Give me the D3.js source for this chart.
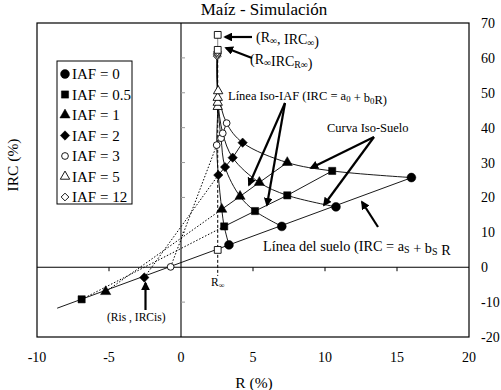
<!DOCTYPE html>
<html>
<head>
<meta charset="utf-8">
<script src="https://cdn.jsdelivr.net/npm/d3@7"></script>
<style>
  body { margin: 0; background: #fff; }
  svg text { font-family: "Liberation Serif", "Times New Roman", Times, serif; }
</style>
</head>
<body>
<div id="chart"></div>
<script>
// IAF levels (columns of the soil tables below)
var iafLevels = ["0", "0.5", "1", "2", "3", "5", "12"];

// one row per soil (iso-suelo curve), one column per IAF level
var soilR = [
  [3.33, 3.00, 2.83, 2.59, 2.48, 2.55, 2.52],
  [7.00, 5.14, 4.10, 3.06, 2.78, 2.55, 2.52],
  [10.76, 7.38, 5.44, 3.59, 2.90, 2.55, 2.53],
  [16.0, 10.5, 7.38, 4.28, 3.17, 2.58, 2.53]
];
var soilIRC = [
  [6.4, 11.7, 16.6, 26.4, 35.0, 46.0, 60.5],
  [11.7, 16.1, 20.3, 28.7, 37.0, 47.2, 60.9],
  [17.3, 20.6, 24.3, 31.4, 38.4, 48.6, 61.3],
  [25.7, 27.6, 30.0, 35.7, 41.3, 50.5, 61.7]
];

// soil line IRC = aS + bS R
var soilA = 1.33, soilB = 1.52;
var soilLineR = [-8.6, 16.0];

// (Ris, IRCis): where each iso-IAF line meets the soil line (IAF 0.5, 1, 2, 3)
var isR = [-6.9, -5.23, -2.55, -0.72];
var isIRC = [-9.2, -7.0, -2.95, 0.1];

// limits
var rInf = 2.55, ircInf = 66.6, ircRInf = 62.3;
var soilAtRInf = 4.96;

var xTicks = [-10, -5, 0, 5, 10, 15, 20];
var yTicks = [-20, -10, 0, 10, 20, 30, 40, 50, 60, 70];

var width = 501, height = 390;

var svg = d3.select("#chart").append("svg")
  .attr("width", width)
  .attr("height", height)
  .attr("font-family", "'Liberation Serif', 'Times New Roman', serif");

var x = d3.scaleLinear().domain([-10, 20]).range([37, 469]);
var y = d3.scaleLinear().domain([-20, 70]).range([337, 23]);

var defs = svg.append("defs");
defs.append("marker")
  .attr("id", "arrow")
  .attr("viewBox", "0 -5 10 10")
  .attr("refX", 8)
  .attr("refY", 0)
  .attr("markerWidth", 4)
  .attr("markerHeight", 4)
  .attr("markerUnits", "strokeWidth")
  .attr("orient", "auto")
  .append("path")
  .attr("d", "M0,-5L10,0L0,5Z")
  .attr("fill", "#000");

// plot frame
svg.append("rect")
  .attr("x", x(-10)).attr("y", y(70))
  .attr("width", x(20) - x(-10)).attr("height", y(-20) - y(70))
  .attr("fill", "none").attr("stroke", "#000").attr("stroke-width", 1.2);

// zero axes
svg.append("line")
  .attr("x1", x(-10)).attr("x2", x(20))
  .attr("y1", y(0)).attr("y2", y(0))
  .attr("stroke", "#000").attr("stroke-width", 1.1);
svg.append("line")
  .attr("x1", x(0)).attr("x2", x(0))
  .attr("y1", y(70)).attr("y2", y(-20))
  .attr("stroke", "#000").attr("stroke-width", 1.1);

// small ticks on the zero axes
svg.selectAll(".xt")
  .data(xTicks.filter(function(d) { return d > -10 && d < 20 && d != 0; }))
  .enter().append("line")
  .attr("x1", function(d) { return x(d); }).attr("x2", function(d) { return x(d); })
  .attr("y1", y(0)).attr("y2", y(0) + 4)
  .attr("stroke", "#000");
svg.selectAll(".yt")
  .data(yTicks.filter(function(d) { return d > -20 && d < 70 && d != 0; }))
  .enter().append("line")
  .attr("x1", x(0)).attr("x2", x(0) + 4)
  .attr("y1", function(d) { return y(d); }).attr("y2", function(d) { return y(d); })
  .attr("stroke", "#999");

// tick labels
svg.selectAll(".xl")
  .data(xTicks)
  .enter().append("text")
  .attr("x", function(d) { return x(d); })
  .attr("y", 362)
  .attr("text-anchor", "middle")
  .attr("font-size", 14)
  .text(function(d) { return d; });
svg.selectAll(".yl")
  .data(yTicks)
  .enter().append("text")
  .attr("x", 481)
  .attr("y", function(d) { return y(d) + 5; })
  .attr("font-size", 14)
  .text(function(d) { return d; });

svg.append("text")
  .attr("x", 254).attr("y", 388)
  .attr("text-anchor", "middle").attr("font-size", 15.5)
  .text("R (%)");
svg.append("text")
  .attr("transform", "translate(18,165) rotate(-90)")
  .attr("text-anchor", "middle").attr("font-size", 15.5)
  .text("IRC (%)");
svg.append("text")
  .attr("x", 264).attr("y", 15)
  .attr("text-anchor", "middle").attr("font-size", 17)
  .text("Maíz - Simulación");

var line = d3.line()
  .x(function(d) { return x(d[0]); })
  .y(function(d) { return y(d[1]); });

// dotted extensions of the iso-IAF lines down to the soil line
isR.forEach(function(r, j) {
  svg.append("path")
    .attr("d", line([[r, isIRC[j]], [soilR[0][j + 1], soilIRC[0][j + 1]]]))
    .attr("fill", "none").attr("stroke", "#000")
    .attr("stroke-width", 1).attr("stroke-dasharray", "1.5,1.8");
});

// R-infinity dashed vertical
svg.append("path")
  .attr("d", line([[rInf, ircRInf], [rInf, -2.5]]))
  .attr("fill", "none").attr("stroke", "#000")
  .attr("stroke-width", 1).attr("stroke-dasharray", "3,2");
svg.append("path")
  .attr("d", line([[rInf, ircRInf], [rInf, ircInf]]))
  .attr("fill", "none").attr("stroke", "#888").attr("stroke-width", 1);

// soil line
svg.append("path")
  .attr("d", line(soilLineR.map(function(r) { return [r, soilA + soilB * r]; })))
  .attr("fill", "none").attr("stroke", "#000").attr("stroke-width", 0.9);

// iso-suelo curves
var curve = d3.line()
  .x(function(d) { return x(d[0]); })
  .y(function(d) { return y(d[1]); })
  .curve(d3.curveCatmullRom.alpha(0.5));
soilR.forEach(function(row, i) {
  var pts = row.map(function(r, j) { return [r, soilIRC[i][j]]; });
  pts.push([rInf, ircRInf]);
  svg.append("path")
    .attr("d", curve(pts))
    .attr("fill", "none").attr("stroke", "#000").attr("stroke-width", 0.9);
});

// iso-IAF lines
iafLevels.forEach(function(lev, j) {
  if (j == 0) return;
  var pts = soilR.map(function(row, i) { return [row[j], soilIRC[i][j]]; });
  svg.append("path")
    .attr("d", line(pts))
    .attr("fill", "none").attr("stroke", "#000").attr("stroke-width", 0.9);
});

// marker styles per IAF level
var diamond = {
  draw: function(ctx, size) {
    var r = Math.sqrt(size / 2);
    ctx.moveTo(0, -r); ctx.lineTo(r, 0); ctx.lineTo(0, r); ctx.lineTo(-r, 0); ctx.closePath();
  }
};
var markerStyle = [
  { type: d3.symbolCircle, size: 62, fill: "#000" },
  { type: d3.symbolSquare, size: 52, fill: "#000" },
  { type: d3.symbolTriangle, size: 45, fill: "#000" },
  { type: diamond, size: 44, fill: "#000" },
  { type: d3.symbolCircle, size: 36, fill: "#fff" },
  { type: d3.symbolTriangle, size: 38, fill: "#fff" },
  { type: diamond, size: 30, fill: "#fff" }
];
var squareOpen = { type: d3.symbolSquare, size: 46, fill: "#fff" };

function drawMarker(g, st, px, py) {
  g.append("path")
    .attr("d", d3.symbol().type(st.type).size(st.size)())
    .attr("transform", "translate(" + px + "," + py + ")")
    .attr("fill", st.fill)
    .attr("stroke", "#000").attr("stroke-width", st.fill == "#fff" ? 0.9 : 0.5);
}

var marks = svg.append("g");
soilR.forEach(function(row, i) {
  row.forEach(function(r, j) {
    drawMarker(marks, markerStyle[j], x(r), y(soilIRC[i][j]));
  });
});
isR.forEach(function(r, j) {
  drawMarker(marks, markerStyle[j + 1], x(r), y(isIRC[j]));
});
drawMarker(marks, squareOpen, x(rInf), y(soilAtRInf));
drawMarker(marks, squareOpen, x(rInf), y(ircRInf));
drawMarker(marks, squareOpen, x(rInf), y(ircInf));

// legend
var lg = svg.append("g");
lg.append("rect")
  .attr("x", 57).attr("y", 61).attr("width", 75).attr("height", 143)
  .attr("fill", "#fff").attr("stroke", "#000").attr("stroke-width", 1);
iafLevels.forEach(function(lev, j) {
  var ly = 74 + j * 20.5;
  drawMarker(lg, markerStyle[j], 65, ly);
  lg.append("text")
    .attr("x", 72).attr("y", ly + 5)
    .attr("font-size", 15)
    .text("IAF = " + lev);
});

// annotations
function richText(px, py, size, parts) {
  var t = svg.append("text").attr("x", px).attr("y", py).attr("font-size", size);
  parts.forEach(function(p) {
    if (typeof p == "string") {
      t.append("tspan").text(p);
    } else {
      t.append("tspan")
        .attr("font-size", size * 0.7)
        .attr("dy", 2)
        .text(p.sub);
      t.append("tspan").attr("dy", -2).text("");
    }
  });
  return t;
}
function arrow(x1, y1, x2, y2) {
  svg.append("line")
    .attr("x1", x1).attr("y1", y1).attr("x2", x2).attr("y2", y2)
    .attr("stroke", "#000").attr("stroke-width", 2.2)
    .attr("marker-end", "url(#arrow)");
}

richText(256, 42, 14, ["(R", { sub: "∞" }, ", IRC", { sub: "∞" }, ")"]);
arrow(252, 37, 225, 37);
richText(250, 64, 14, ["(R", { sub: "∞" }, "IRC", { sub: "R∞" }, ")"]);
arrow(252, 58, 226, 48);

richText(228, 100, 12.5, ["Línea Iso-IAF (IRC = a", { sub: "0" }, " + b", { sub: "0" }, "R)"]);
arrow(285, 103, 249, 185);
arrow(285, 103, 267, 205);

richText(327, 132, 12.5, ["Curva Iso-Suelo"]);
arrow(374, 137, 311, 168);
arrow(374, 137, 324, 205);

richText(263, 251, 14.3, ["Línea del suelo (IRC = a", { sub: "S" }, " + b", { sub: "S" }, " R"]);
arrow(378, 227, 362, 202);

richText(107, 321, 11.5, ["(Ris , IRCis)"]);
arrow(145.5, 310, 145.5, 283);

richText(211, 286, 11.5, ["R", { sub: "∞" }]);
</script>
</body>
</html>
